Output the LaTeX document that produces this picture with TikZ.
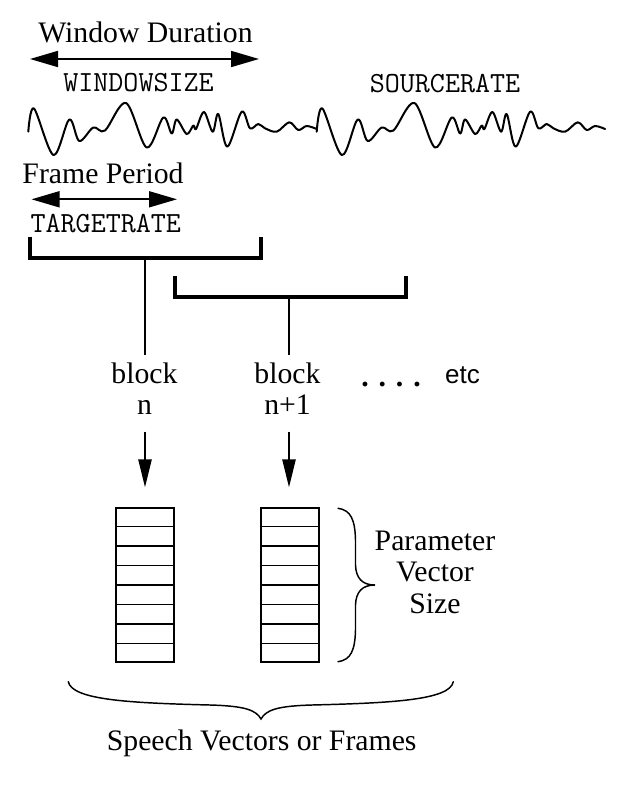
\documentclass[tikz,border=0pt]{standalone}
\usepackage{fontspec}
\setmainfont{Liberation Serif}
\newfontfamily\sansfont{Liberation Sans}
\usetikzlibrary{arrows.meta,calc}
\tikzset{
  serif/.style={font=\fontsize{22.3pt}{26pt}\selectfont, inner sep=0pt, anchor=base},
  mono/.style={font=\ttfamily\fontsize{21.9pt}{24pt}\selectfont, inner sep=0pt, anchor=base},
  sanslbl/.style={font=\sansfont\fontsize{19.5pt}{22pt}\selectfont, inner sep=0pt, anchor=base},
  dblarrow/.style={line width=1.3pt, {Triangle[length=21pt,width=12pt]}-{Triangle[length=21pt,width=12pt]}},
  downarrow/.style={line width=1.1pt, -{Triangle[length=21pt,width=10pt]}},
  bracketline/.style={line width=3pt},
  stemline/.style={line width=1.1pt},
  wavepath/.style={line width=1.5pt, line join=round, line cap=round},
  vecbox/.style={draw, line width=1.5pt, minimum width=43.5pt, minimum height=115pt, inner sep=0pt},
  cellline/.style={line width=1.1pt},
  bracepath/.style={line width=1.1pt, line cap=round}
}
\begin{document}
\begin{tikzpicture}[x=0.75pt,y=-0.75pt]
\useasboundingbox (0,0) rectangle (641,792);

% top labels
\node[serif] (wd) at (145.5,43) {Window Duration};
\coordinate (wdl) at (30,59);
\coordinate (wdr) at (259,59);
\draw[dblarrow] (wdl) -- (wdr);
\node[mono] (ws) at (138.5,91) {WINDOWSIZE};
\node[mono] (sr) at (445,92.5) {SOURCERATE};

% waveform (one pattern repeated)
\foreach \s in {0pt,216.3pt}{
\begin{scope}[xshift=\s]
\draw[wavepath] plot[smooth,tension=0.55] coordinates {
(28.3,131.7) (34,108.5) (53.5,155) (69.3,119.5) (79.3,141) (93.3,127.5) (105,130.5)
(126,103) (146.7,147.5) (163.3,117.5) (171.7,133.5) (176.7,119.5) (186.7,134)
(193.3,125.5) (196,129) (204,112) (212.7,131.7) (218.3,114) (227.3,146.7)
(241.7,111.7) (250,128.3) (258.3,124) (265,128.3) (276.7,131.7) (289.3,122.3)
(298.3,130) (306.7,126) (316.7,129)};
\end{scope}}

% frame period
\node[serif] (fp) at (103,183.3) {Frame Period};
\coordinate (fpl) at (31.5,199.3);
\coordinate (fpr) at (177,199.3);
\draw[dblarrow] (fpl) -- (fpr);
\node[mono] (tr) at (105.8,232.7) {TARGETRATE};

% brackets
\coordinate (b1a) at (30,236.5);
\coordinate (b1b) at (260.7,236.5);
\coordinate (b1c) at (145,257.7);
\draw[bracketline] (b1a) |- (b1c) -| (b1b);
\coordinate (b2a) at (175,275.5);
\coordinate (b2b) at (406,275.5);
\coordinate (b2c) at (289,296.7);
\draw[bracketline] (b2a) |- (b2c) -| (b2b);

% stems
\coordinate (s1) at (145,355);
\coordinate (s2) at (289,355);
\draw[stemline] (b1c) -- (s1);
\draw[stemline] (b2c) -- (s2);

% block labels
\node[serif] (blk1) at (144.5,383.3) {block};
\node[serif] (n1) at (144.5,414) {n};
\node[serif] (blk2) at (287.5,383.3) {block};
\node[serif] (n2) at (287.5,414) {n+1};
\node[serif] (dots) at (391,386.7) {\textbf{.\,\,.\,\,.\,\,.}};
\node[sanslbl] (etc) at (462.5,383.3) {etc};

% down arrows
\coordinate (a1s) at (145,431.7);
\coordinate (a1e) at (145,487.3);
\coordinate (a2s) at (289,431.7);
\coordinate (a2e) at (289,487.3);
\draw[downarrow] (a1s) -- (a1e);
\draw[downarrow] (a2s) -- (a2e);

% vectors
\node[vecbox] (v1) at (145,585) {};
\node[vecbox] (v2) at (289.85,585) {};
\foreach \v in {v1,v2}{
  \foreach \i in {1,...,7}{
    \draw[cellline] ($(\v.north west)!\i/8!(\v.south west)$) -- ($(\v.north east)!\i/8!(\v.south east)$);
  }
}

% right brace
\coordinate (rbt) at (338,508.3);
\coordinate (rbm) at (375,585);
\coordinate (rbb) at (338,661.7);
\draw[bracepath] (rbt) .. controls (351,510) and (355,520) .. (355.5,540)
  -- (355.5,565) .. controls (356,578) and (362,585) .. (rbm)
  .. controls (362,585) and (356,592) .. (355.5,605)
  -- (355.5,630) .. controls (355,650) and (351,660) .. (rbb);

\node[serif] (pv1) at (435,550) {Parameter};
\node[serif] (pv2) at (435,581.7) {Vector};
\node[serif] (pv3) at (435,613.3) {Size};

% bottom brace
\coordinate (bbl) at (68.3,681.7);
\coordinate (bbm) at (261,719);
\coordinate (bbr) at (453.3,681.7);
\draw[bracepath] (bbl) .. controls (72,700) and (130,703) .. (210,705)
  .. controls (245,706) and (256,710) .. (bbm)
  .. controls (266,710) and (277,706) .. (312,705)
  .. controls (392,703) and (450,700) .. (bbr);

\node[serif] (svf) at (261.7,750) {Speech Vectors or Frames};
\end{tikzpicture}
\end{document}
